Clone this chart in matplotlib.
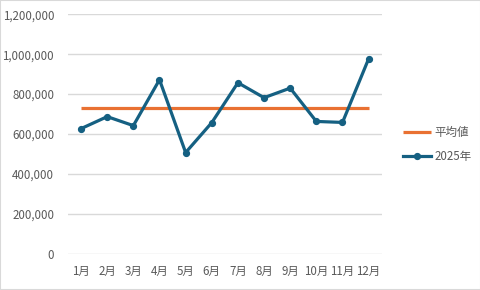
import matplotlib
matplotlib.use("Agg")
import matplotlib.pyplot as plt
from matplotlib.ticker import FuncFormatter

plt.rcParams['font.family'] = ['Noto Sans CJK JP', 'DejaVu Sans']

# monthly values
months = ['1月', '2月', '3月', '4月', '5月', '6月', '7月', '8月', '9月', '10月', '11月', '12月']
sales_2025 = [627000, 687000, 642000, 872000, 507000, 657000, 857000, 782000, 830000, 663000, 658000, 977000]
average = [732000] * 12

blue = '#156082'
orange = '#E97132'
grey = '#595959'

fig = plt.figure(figsize=(4.81, 2.90), dpi=100)
fig.patches.append(plt.Rectangle((0, 0), 1, 1, transform=fig.transFigure,
                                 fill=False, edgecolor='#d9d9d9', linewidth=1.5))
ax = fig.add_axes([68 / 481, 1 - 253.7 / 290, (381.7 - 68) / 481, (253.7 - 14.3) / 290])

x = list(range(len(months)))
ax.plot(x, average, color=orange, linewidth=2.3, label='平均値', solid_capstyle='butt')
ax.plot(x, sales_2025, color=blue, linewidth=2.3, marker='o', markersize=4.2, label='2025年')

ax.set_xlim(-0.5, 11.5)
ax.set_ylim(0, 1200000)
ax.set_yticks(range(0, 1200001, 200000))
ax.yaxis.set_major_formatter(FuncFormatter(lambda v, p: f'{int(v):,}'))
ax.set_xticks(x)
ax.set_xticklabels(months)

ax.grid(axis='y', color='#d9d9d9', linewidth=1)
ax.set_axisbelow(True)
for s in ax.spines.values():
    s.set_visible(False)
ax.tick_params(length=0, colors=grey, labelsize=8.3)
ax.tick_params(axis='y', pad=10)
ax.tick_params(axis='x', pad=8)

leg = ax.legend(loc='center left', bbox_to_anchor=(1.035, 0.455), frameon=False,
                fontsize=8.3, handlelength=2.4, handletextpad=0.3, labelspacing=0.95)
for t in leg.get_texts():
    t.set_color(grey)

fig.savefig('out.png', dpi=100)
